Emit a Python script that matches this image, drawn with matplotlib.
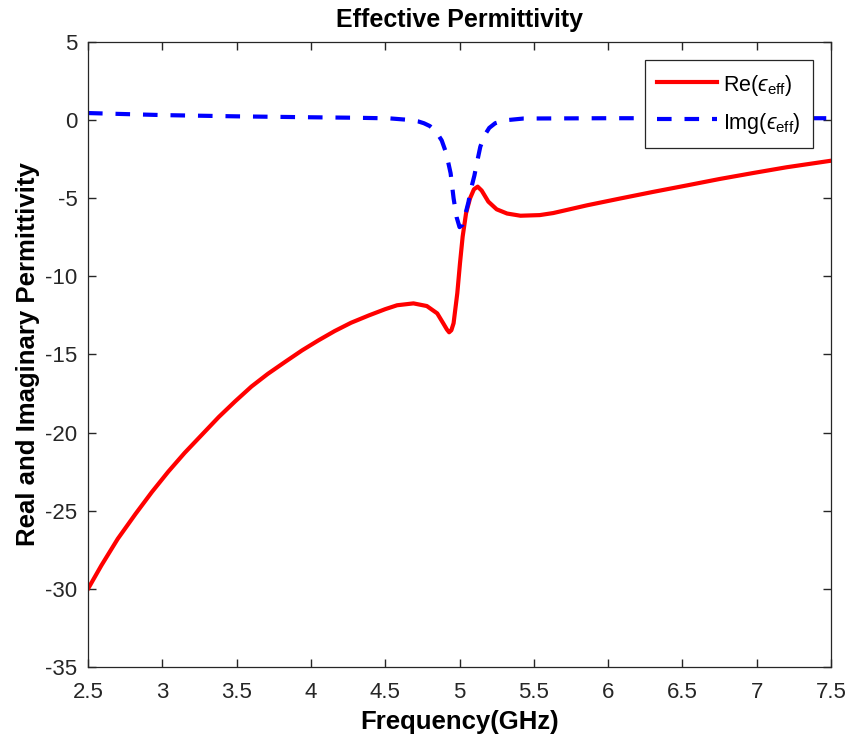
import matplotlib
matplotlib.use("Agg")
import matplotlib.pyplot as plt

plt.rcParams['font.family'] = ['Liberation Sans', 'DejaVu Sans']
plt.rcParams['mathtext.fontset'] = 'custom'
plt.rcParams['mathtext.rm'] = 'Liberation Sans'
plt.rcParams['mathtext.it'] = 'Liberation Sans:italic'
plt.rcParams['mathtext.bf'] = 'Liberation Sans:bold'
plt.rcParams['mathtext.fallback'] = 'stixsans'

# Real part of effective permittivity
freq_re = [2.5, 2.59, 2.7, 2.82, 2.93, 3.04, 3.15, 3.27, 3.38, 3.49, 3.6,
           3.71, 3.83, 3.94, 4.05, 4.16, 4.27, 4.39, 4.5, 4.58, 4.69, 4.78,
           4.85, 4.89, 4.915, 4.93, 4.945, 4.96, 4.985, 5.003, 5.021, 5.044,
           5.071, 5.097, 5.122, 5.149, 5.194, 5.25, 5.32, 5.41, 5.54, 5.63,
           5.86, 6.08, 6.3, 6.53, 6.75, 6.98, 7.2, 7.5]
eps_re = [-30.0, -28.5, -26.8, -25.2, -23.8, -22.5, -21.3, -20.1, -19.0,
          -18.0, -17.05, -16.24, -15.45, -14.74, -14.1, -13.5, -12.97, -12.5,
          -12.1, -11.85, -11.73, -11.9, -12.37, -13.0, -13.4, -13.58, -13.45,
          -13.0, -11.08, -9.17, -7.46, -5.96, -5.0, -4.43, -4.26, -4.51,
          -5.22, -5.71, -5.98, -6.12, -6.08, -5.95, -5.45, -5.02, -4.6,
          -4.18, -3.77, -3.38, -3.02, -2.6]

# Imaginary part of effective permittivity
freq_im = [2.5, 3.0, 3.5, 4.0, 4.3, 4.53, 4.65, 4.72, 4.76, 4.8, 4.84, 4.88,
           4.91, 4.94, 4.96, 4.98, 5.0, 5.02, 5.04, 5.06, 5.08, 5.1, 5.12,
           5.14, 5.17, 5.2, 5.24, 5.3, 5.43, 6.0, 6.5, 7.0, 7.5]
eps_im = [0.45, 0.32, 0.24, 0.18, 0.15, 0.11, 0.02, -0.08, -0.2, -0.38,
          -0.7, -1.3, -2.1, -3.4, -5.0, -6.2, -6.85, -6.7, -6.0, -5.25, -4.3,
          -3.55, -2.6, -1.7, -0.95, -0.5, -0.2, -0.02, 0.1, 0.12, 0.12, 0.12,
          0.12]

x_ticks = [2.5, 3, 3.5, 4, 4.5, 5, 5.5, 6, 6.5, 7, 7.5]
x_labels = ['2.5', '3', '3.5', '4', '4.5', '5', '5.5', '6', '6.5', '7', '7.5']
y_ticks = [-35, -30, -25, -20, -15, -10, -5, 0, 5]
y_labels = ['-35', '-30', '-25', '-20', '-15', '-10', '-5', '0', '5']

fig = plt.figure(figsize=(8.52, 7.48), dpi=100)
ax = fig.add_axes([0.1033, 0.1083, 0.8721, 0.8356])

ax.plot(freq_re, eps_re, color='#ff0000', linewidth=3,
        solid_joinstyle='round', label='Re($\u03f5_{\\rm eff}$)')
line_im, = ax.plot(freq_im, eps_im, color='#0000ff', linewidth=3,
                   linestyle='--', label='Img($\u03f5_{\\rm eff}$)')
line_im.set_dashes([3.5, 3.1])

ax.set_xlim(2.5, 7.5)
ax.set_ylim(-35, 5)
ax.set_xticks(x_ticks)
ax.set_xticklabels(x_labels)
ax.set_yticks(y_ticks)
ax.set_yticklabels(y_labels)

axis_color = '#262626'
for s in ax.spines.values():
    s.set_color('#262626')
    s.set_linewidth(0.9)
ax.tick_params(direction='in', length=6, width=1, colors=axis_color,
               labelsize=16, top=True, right=True)
ax.tick_params(axis='x', pad=11)
ax.tick_params(axis='y', pad=7.5)

ax.set_title('Effective Permittivity', fontsize=18, fontweight='bold', pad=11)
ax.set_xlabel('Frequency(GHz)', fontsize=18.5, fontweight='bold', labelpad=5)
ax.set_ylabel('Real and Imaginary Permittivity', fontsize=18.5,
              fontweight='bold', labelpad=4)

leg = ax.legend(loc='upper right', fontsize=15.5, handlelength=2.8,
                handleheight=1.3, borderaxespad=0.85, fancybox=False,
                framealpha=1, edgecolor='#262626', handletextpad=0.3,
                labelspacing=0.55, borderpad=0.55)
leg.get_frame().set_linewidth(0.9)

fig.savefig('out.png', dpi=100, facecolor='white')
